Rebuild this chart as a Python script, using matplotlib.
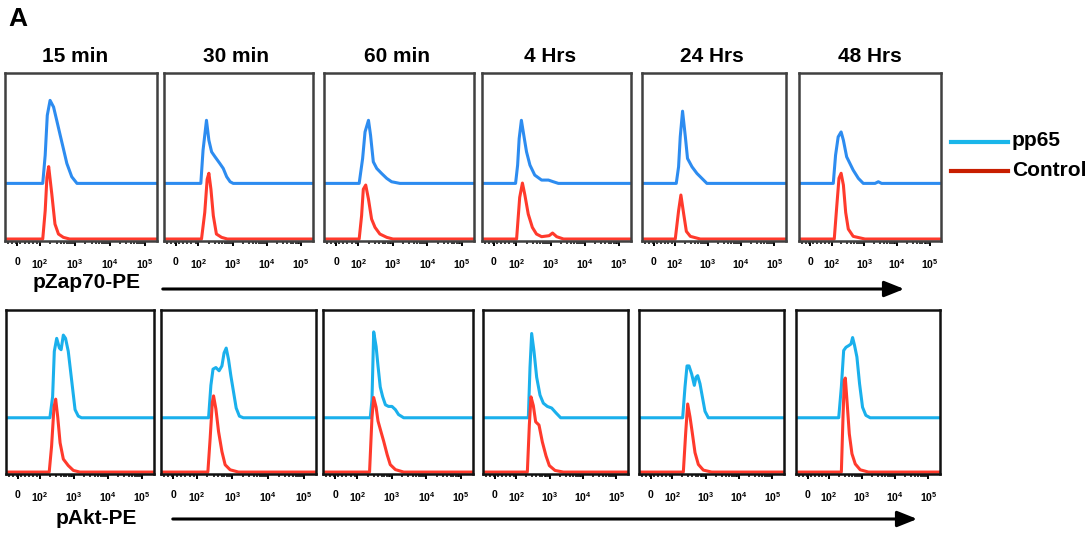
import numpy as np
import matplotlib
matplotlib.use("Agg")
import matplotlib.pyplot as plt
from matplotlib.patches import FancyArrowPatch
from matplotlib.lines import Line2D

plt.rcParams['font.family'] = ['Liberation Sans', 'DejaVu Sans']
plt.rcParams['font.weight'] = 'bold'
plt.rcParams['mathtext.fontset'] = 'custom'
plt.rcParams['mathtext.rm'] = 'Liberation Sans:bold'
plt.rcParams['mathtext.bf'] = 'Liberation Sans:bold'
plt.rcParams['mathtext.default'] = 'rm'

# time points (columns)
times = ['15 min', '30 min', '60 min', '4 Hrs', '24 Hrs', '48 Hrs']

# fluorescence axis: decade units (2 -> 10^2 ... 5 -> 10^5)
tick_pos = [1.35, 2, 3, 4, 5]
tick_labels = ['0', r'$10^2$', r'$10^3$', r'$10^4$', r'$10^5$']

# ---- pZap70-PE row: pp65 (height above its own offset) ----
zap_pp65_x = [
    [2.08, 2.15, 2.21, 2.29, 2.39, 2.48, 2.58, 2.67, 2.77, 2.91, 3.06],
    [2.075, 2.14, 2.24, 2.31, 2.39, 2.49, 2.63, 2.73, 2.83, 2.93, 3.02],
    [2.02, 2.12, 2.19, 2.29, 2.35, 2.43, 2.53, 2.67, 2.82, 2.96, 3.20],
    [1.98, 2.04, 2.085, 2.15, 2.22, 2.30, 2.40, 2.54, 2.74, 2.94, 3.08, 3.23],
    [2.035, 2.105, 2.155, 2.225, 2.31, 2.375, 2.51, 2.66, 2.81, 2.96],
    [2.05, 2.12, 2.20, 2.29, 2.36, 2.46, 2.56, 2.66, 2.82, 2.97, 3.33, 3.43, 3.53],
]
zap_pp65_y = [
    [0, 0.17, 0.41, 0.50, 0.46, 0.38, 0.29, 0.21, 0.12, 0.04, 0],
    [0, 0.20, 0.38, 0.26, 0.19, 0.16, 0.12, 0.09, 0.04, 0.01, 0],
    [0, 0.15, 0.31, 0.38, 0.29, 0.13, 0.09, 0.06, 0.03, 0.01, 0],
    [0, 0.11, 0.27, 0.38, 0.29, 0.19, 0.11, 0.05, 0.02, 0.02, 0.01, 0],
    [0, 0.10, 0.28, 0.435, 0.28, 0.15, 0.10, 0.06, 0.03, 0],
    [0, 0.17, 0.28, 0.31, 0.26, 0.16, 0.12, 0.08, 0.03, 0, 0, 0.01, 0],
]
# ---- pZap70-PE row: control ----
zap_ctrl_x = [
    [2.08, 2.15, 2.20, 2.25, 2.34, 2.43, 2.53, 2.67, 2.85],
    [2.095, 2.19, 2.26, 2.31, 2.37, 2.44, 2.53, 2.68, 2.85],
    [2.02, 2.09, 2.14, 2.21, 2.29, 2.38, 2.48, 2.62, 2.82, 3.0],
    [2.01, 2.10, 2.18, 2.25, 2.35, 2.47, 2.59, 2.74, 2.96, 3.06, 3.18, 3.38],
    [2.005, 2.105, 2.175, 2.26, 2.34, 2.46, 2.76],
    [2.08, 2.15, 2.225, 2.29, 2.36, 2.43, 2.51, 2.66, 3.02],
]
zap_ctrl_y = [
    [0, 0.17, 0.37, 0.436, 0.27, 0.09, 0.03, 0.01, 0],
    [0, 0.16, 0.36, 0.396, 0.30, 0.14, 0.03, 0.01, 0],
    [0, 0.14, 0.30, 0.325, 0.24, 0.12, 0.07, 0.03, 0.01, 0],
    [0, 0.25, 0.337, 0.267, 0.15, 0.07, 0.03, 0.014, 0.02, 0.036, 0.014, 0],
    [0, 0.17, 0.265, 0.15, 0.046, 0.016, 0],
    [0, 0.18, 0.366, 0.396, 0.325, 0.16, 0.06, 0.016, 0],
]

# ---- pAkt-PE row: pp65 ----
akt_pp65_x = [
    [2.29, 2.37, 2.42, 2.49, 2.57, 2.62, 2.685, 2.75, 2.83, 2.93, 3.03, 3.125, 3.22],
    [2.335, 2.40, 2.46, 2.54, 2.63, 2.71, 2.77, 2.83, 2.895, 2.96, 3.035, 3.11, 3.20, 3.31],
    [2.37, 2.42, 2.47, 2.54, 2.595, 2.66, 2.73, 2.81, 2.90, 3.00, 3.10, 3.19, 3.34],
    [2.36, 2.41, 2.46, 2.53, 2.61, 2.71, 2.81, 2.93, 3.06, 3.19, 3.33],
    [2.31, 2.38, 2.44, 2.50, 2.58, 2.66, 2.71, 2.76, 2.83, 2.90, 2.98, 3.08, 3.18],
    [2.29, 2.37, 2.44, 2.51, 2.59, 2.66, 2.71, 2.77, 2.84, 2.92, 3.01, 3.11, 3.24],
]
akt_pp65_y = [
    [0, 0.13, 0.41, 0.49, 0.43, 0.42, 0.51, 0.49, 0.41, 0.23, 0.05, 0.01, 0],
    [0, 0.20, 0.30, 0.31, 0.29, 0.32, 0.40, 0.43, 0.36, 0.26, 0.16, 0.06, 0.01, 0],
    [0, 0.11, 0.53, 0.44, 0.32, 0.19, 0.13, 0.08, 0.07, 0.07, 0.05, 0.02, 0],
    [0, 0.31, 0.52, 0.41, 0.25, 0.14, 0.09, 0.07, 0.06, 0.03, 0],
    [0, 0.19, 0.32, 0.32, 0.27, 0.20, 0.25, 0.26, 0.21, 0.13, 0.04, 0.0, 0],
    [0, 0.19, 0.415, 0.435, 0.445, 0.455, 0.495, 0.445, 0.375, 0.21, 0.065, 0.015, 0],
]
# ---- pAkt-PE row: control ----
akt_ctrl_x = [
    [2.27, 2.34, 2.41, 2.46, 2.52, 2.59, 2.685, 2.83, 2.98, 3.17],
    [2.315, 2.38, 2.44, 2.475, 2.54, 2.615, 2.71, 2.80, 2.94, 3.175],
    [2.35, 2.42, 2.47, 2.54, 2.595, 2.68, 2.76, 2.86, 2.95, 3.10, 3.34],
    [2.33, 2.39, 2.44, 2.51, 2.58, 2.68, 2.78, 2.89, 2.99, 3.16, 3.41],
    [2.33, 2.40, 2.46, 2.53, 2.60, 2.68, 2.78, 2.93, 3.18],
    [2.37, 2.42, 2.46, 2.49, 2.54, 2.61, 2.69, 2.79, 2.94, 3.19],
]
akt_ctrl_y = [
    [0, 0.16, 0.40, 0.45, 0.34, 0.18, 0.08, 0.04, 0.01, 0],
    [0, 0.21, 0.43, 0.47, 0.39, 0.25, 0.126, 0.045, 0.014, 0],
    [0, 0.336, 0.46, 0.40, 0.315, 0.25, 0.19, 0.108, 0.046, 0.015, 0],
    [0, 0.29, 0.464, 0.41, 0.31, 0.29, 0.186, 0.10, 0.04, 0.01, 0],
    [0, 0.24, 0.42, 0.34, 0.24, 0.12, 0.047, 0.012, 0],
    [0, 0.34, 0.565, 0.58, 0.44, 0.236, 0.113, 0.05, 0.014, 0],
]

# layout (pixel boxes of the panels)
W, H = 1092, 536
top_cols = [(5, 157), (164, 313), (324, 474), (482, 631), (642, 786), (799, 941)]
bot_cols = [(6, 154), (161, 316), (323, 473), (483, 628), (639, 784), (796, 940)]
top_rows = (73, 241)
bot_rows = (310, 474)
title_x = [75, 236, 397, 550, 712, 870]

XMIN, XMAX = 1.0, 5.35
OFFSET = 0.335
RED = '#ff3a2c'
BLUE_TOP = '#2d8cf0'
BLUE_BOT = '#1ab0ec'

minor = [d + np.log10(k) for d in (2, 3, 4) for k in range(2, 10)] + list(np.arange(1.08, 1.95, 0.12))

fig = plt.figure(figsize=(W / 100, H / 100), dpi=100)


def panel(cols, rows, bx, by, rx, ry, blue, frame):
    l, r = cols
    t, b = rows
    ax = fig.add_axes([l / W, 1 - b / H, (r - l) / W, (b - t) / H])
    ax.set_xlim(XMIN, XMAX)
    ax.set_ylim(-0.012, 1.0)
    x0, x1 = ax.get_xlim()
    ax.plot([x0] + bx + [x1], [OFFSET] + [OFFSET + v for v in by] + [OFFSET],
            color=blue, lw=2.2, solid_joinstyle='round')
    ax.plot([x0] + rx + [x1], [0] + ry + [0], color=RED, lw=2.2, solid_joinstyle='round')
    ax.set_yticks([])
    ax.set_xticks(tick_pos)
    ax.set_xticklabels(tick_labels)
    ax.set_xticks(minor, minor=True)
    ax.tick_params(axis='x', which='major', direction='out', length=3.5, width=1.4,
                   labelsize=7.5, pad=8)
    ax.tick_params(axis='x', which='minor', direction='out', length=2.2, width=1.1)
    for s in ax.spines.values():
        s.set_linewidth(1.8)
        s.set_color(frame)
    return ax


for i in range(6):
    panel(top_cols[i], top_rows, zap_pp65_x[i], zap_pp65_y[i],
          zap_ctrl_x[i], zap_ctrl_y[i], BLUE_TOP, '#404040')
    fig.text(title_x[i] / W, 1 - 57 / H, times[i], fontsize=15, fontweight='bold',
             ha='center', va='center')
    panel(bot_cols[i], bot_rows, akt_pp65_x[i], akt_pp65_y[i],
          akt_ctrl_x[i], akt_ctrl_y[i], BLUE_BOT, '#111111')

fig.text(8 / W, 1 - 19 / H, 'A', fontsize=19, fontweight='bold', va='center')

fig.text(87 / W, 1 - 283 / H, 'pZap70-PE', fontsize=15, fontweight='bold',
         ha='center', va='center')
fig.text(96 / W, 1 - 519 / H, 'pAkt-PE', fontsize=15, fontweight='bold',
         ha='center', va='center')

for (xa, xb, y) in [(160, 907, 289), (170, 920, 519)]:
    fig.add_artist(FancyArrowPatch((xa / W, 1 - y / H), (xb / W, 1 - y / H),
                                   transform=fig.transFigure,
                                   arrowstyle='-|>,head_length=1.0,head_width=0.4',
                                   mutation_scale=12, lw=2.2, color='black'))

# legend
for y, c, lab in [(142, '#1ab6ea', 'pp65'), (171, '#c81e00', 'Control')]:
    fig.add_artist(Line2D([951 / W, 1008 / W], [1 - y / H, 1 - y / H],
                          transform=fig.transFigure, color=c, lw=3))
    fig.text(1012 / W, 1 - (y - 1) / H, lab, fontsize=15, fontweight='bold',
             va='center', ha='left')

fig.savefig('out.png', dpi=100)
